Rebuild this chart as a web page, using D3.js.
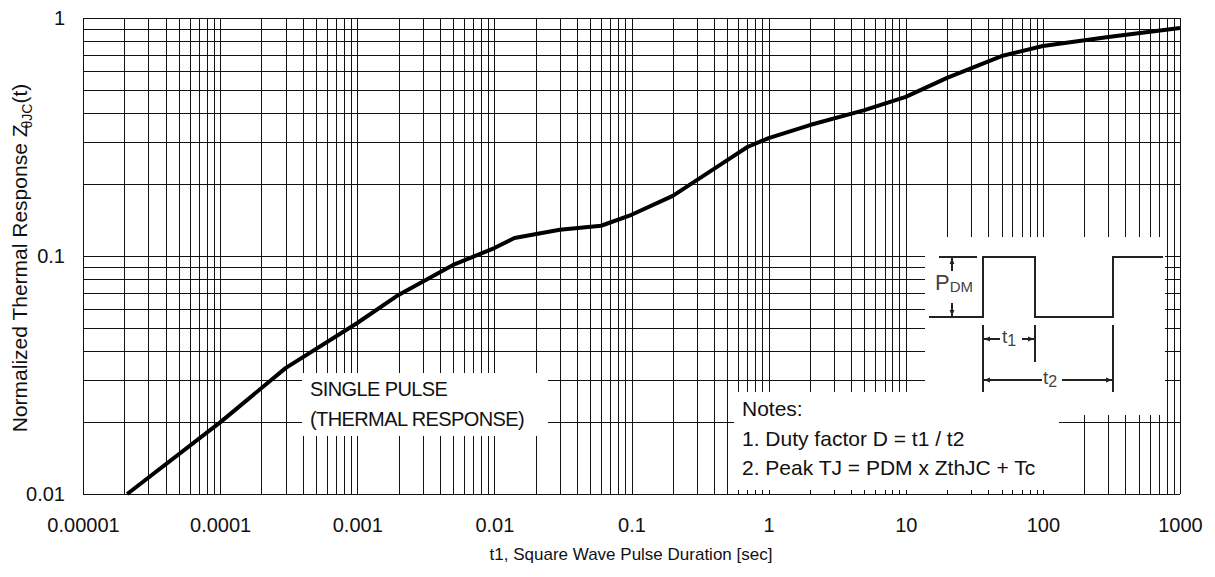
<!DOCTYPE html>
<html>
<head>
<meta charset="utf-8">
<script src="https://cdn.jsdelivr.net/npm/d3@7"></script>
<style>
  html, body { margin: 0; padding: 0; background: #fff; }
  svg { display: block; font-family: "Liberation Sans", Arial, sans-serif; }
</style>
</head>
<body>
<svg id="chart" width="1215" height="577"></svg>
<script>
// Single-pulse transient thermal impedance curve, Zth(JC) vs pulse width
const pulseDurations = [2.1e-5, 1e-4, 3e-4, 1e-3, 2e-3, 5e-3, 0.01, 0.014, 0.03, 0.06, 0.1, 0.2, 0.5, 0.7, 1, 2, 5, 10, 20, 50, 100, 300, 1000];
const thermalResponse = [0.01, 0.02, 0.0338, 0.0523, 0.0686, 0.0917, 0.108, 0.119, 0.129, 0.134, 0.149, 0.179, 0.253, 0.287, 0.313, 0.355, 0.41, 0.466, 0.56, 0.692, 0.763, 0.832, 0.908];

const xTickValues = [1e-5, 1e-4, 1e-3, 1e-2, 0.1, 1, 10, 100, 1000];
const xTickLabels = ["0.00001", "0.0001", "0.001", "0.01", "0.1", "1", "10", "100", "1000"];
const yTickValues = [0.01, 0.1, 1];
const yTickLabels = ["0.01", "0.1", "1"];

const notesLines = ["Notes:", "1. Duty factor D = t1 / t2", "2. Peak TJ = PDM x ZthJC + Tc"];
const curveLabelLines = ["SINGLE PULSE", "(THERMAL RESPONSE)"];

const svg = d3.select("#chart");
const plot = { left: 83, right: 1180, top: 18, bottom: 494 };

const x = d3.scaleLog().domain([1e-5, 1000]).range([plot.left, plot.right]);
const y = d3.scaleLog().domain([0.01, 1]).range([plot.bottom, plot.top]);

// grid: every decade and its 2..9 subdivisions
function logGrid(lo, hi) {
  const out = [];
  for (let e = Math.log10(lo); e < Math.log10(hi); e++) {
    for (let m = 1; m < 10; m++) out.push(m * Math.pow(10, e));
  }
  out.push(hi);
  return out;
}
const snap = v => Math.round(v) + 0.5;

const grid = svg.append("g").attr("stroke", "#111").attr("stroke-width", 1).attr("shape-rendering", "crispEdges");
grid.selectAll(".vx").data(logGrid(1e-5, 1000)).join("line")
  .attr("x1", d => snap(x(d))).attr("x2", d => snap(x(d)))
  .attr("y1", plot.top).attr("y2", plot.bottom);
grid.selectAll(".hy").data(logGrid(0.01, 1)).join("line")
  .attr("y1", d => snap(y(d))).attr("y2", d => snap(y(d)))
  .attr("x1", plot.left).attr("x2", plot.right);

// white label panels sitting on top of the grid
const panels = [
  { x: 302, y: 373, w: 246, h: 63 },
  { x: 734, y: 392, w: 325, h: 98 },
  { x: 925, y: 237, w: 240, h: 178 }
];
svg.append("g").selectAll("rect").data(panels).join("rect")
  .attr("x", d => d.x).attr("y", d => d.y).attr("width", d => d.w).attr("height", d => d.h)
  .attr("fill", "#fff");

// axes
const xAxis = svg.append("g").attr("transform", `translate(0,${plot.bottom})`)
  .call(d3.axisBottom(x).tickValues(xTickValues).tickFormat((d, i) => xTickLabels[i]).tickSize(0).tickPadding(24));
xAxis.select(".domain").remove();
xAxis.selectAll("text").attr("font-size", 20).attr("fill", "#111").attr("font-family", "Liberation Sans, Arial, sans-serif");

const yAxis = svg.append("g").attr("transform", `translate(${plot.left},0)`)
  .call(d3.axisLeft(y).tickValues(yTickValues).tickFormat((d, i) => yTickLabels[i]).tickSize(0).tickPadding(18));
yAxis.select(".domain").remove();
yAxis.selectAll("text").attr("font-size", 20).attr("fill", "#111").attr("font-family", "Liberation Sans, Arial, sans-serif");

// thermal response curve
const line = d3.line().x((d, i) => x(pulseDurations[i])).y(d => y(d));
svg.append("path").datum(thermalResponse)
  .attr("d", line)
  .attr("fill", "none").attr("stroke", "#000").attr("stroke-width", 4).attr("stroke-linejoin", "round");

// axis titles
svg.append("text").attr("x", 631).attr("y", 560).attr("text-anchor", "middle")
  .attr("font-size", 17).attr("fill", "#111")
  .text("t1, Square Wave Pulse Duration [sec]");

const yTitle = svg.append("text").attr("transform", "translate(27,258) rotate(-90)")
  .attr("text-anchor", "middle").attr("font-size", 21).attr("fill", "#111");
yTitle.append("tspan").text("Normalized Thermal Response Z");
yTitle.append("tspan").attr("font-size", 14).attr("dx", -4).attr("dy", 5).text("θJC");
yTitle.append("tspan").attr("dy", -5).text("(t)");

// curve label
svg.append("g").selectAll("text").data(curveLabelLines).join("text")
  .attr("x", 310).attr("y", (d, i) => 396 + i * 30)
  .attr("font-size", 20).attr("fill", "#111").attr("letter-spacing", -0.6).text(d => d);

// notes
svg.append("g").selectAll("text").data(notesLines).join("text")
  .attr("x", 742).attr("y", (d, i) => 416 + i * 29.5)
  .attr("font-size", 21).attr("fill", "#111").text(d => d);

// pulse-train diagram
const defs = svg.append("defs");
defs.append("marker").attr("id", "arrow").attr("viewBox", "0 0 10 10")
  .attr("refX", 10).attr("refY", 5).attr("markerWidth", 9).attr("markerHeight", 6)
  .attr("markerUnits", "userSpaceOnUse").attr("orient", "auto")
  .append("path").attr("d", "M0,1 L10,5 L0,9 Z").attr("fill", "#222");

const wave = svg.append("g").attr("transform", "translate(925,237)")
  .attr("stroke", "#222").attr("stroke-width", 2).attr("fill", "none");
const hi = 20, lo = 80;
wave.append("path").attr("d", `M4,${lo} H58 V${hi} H110 V${lo} H188 V${hi} H238`);
wave.append("path").attr("d", `M14,${hi} H52`);
wave.append("path").attr("d", `M27,34 V${hi + 1}`).attr("marker-end", "url(#arrow)");
wave.append("path").attr("d", `M27,66 V${lo - 1}`).attr("marker-end", "url(#arrow)");
wave.append("path").attr("d", "M58,88 V155 M110,88 V125 M188,88 V155");
wave.append("path").attr("d", "M75,102 H59").attr("marker-end", "url(#arrow)");
wave.append("path").attr("d", "M97,102 H109").attr("marker-end", "url(#arrow)");
wave.append("path").attr("d", "M117,143 H59").attr("marker-end", "url(#arrow)");
wave.append("path").attr("d", "M137,143 H187").attr("marker-end", "url(#arrow)");

const waveText = svg.append("g").attr("transform", "translate(925,237)").attr("fill", "#444");
const pdm = waveText.append("text").attr("x", 10).attr("y", 53).attr("font-size", 22);
pdm.append("tspan").text("P");
pdm.append("tspan").attr("font-size", 15).attr("dy", 2).text("DM");
const t1 = waveText.append("text").attr("x", 77).attr("y", 106).attr("font-size", 19);
t1.append("tspan").text("t");
t1.append("tspan").attr("font-size", 16).attr("dy", 3).text("1");
const t2 = waveText.append("text").attr("x", 118).attr("y", 147).attr("font-size", 19);
t2.append("tspan").text("t");
t2.append("tspan").attr("font-size", 16).attr("dy", 3).text("2");
</script>
</body>
</html>
